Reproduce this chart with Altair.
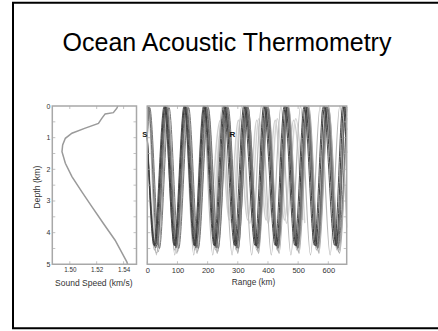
import altair as alt
import pandas as pd

TITLE = "Ocean Acoustic Thermometry"

# ---------------- left panel: sound-speed profile ----------------
profile_depth = [0.0, 0.07, 0.21, 0.25, 0.39, 0.55, 0.70, 0.86, 1.02, 1.23, 1.44,
                 1.81, 2.23, 2.71, 3.18, 3.71, 4.24, 4.92, 5.0]
profile_speed = [1.5357, 1.5350, 1.5324, 1.5263, 1.5238, 1.5213, 1.5115, 1.5016,
                 1.4967, 1.4947, 1.4942, 1.4967, 1.5016, 1.5090, 1.5164, 1.5250,
                 1.5337, 1.5424, 1.5430]
speed_domain = [1.487, 1.5496]
speed_ticks = [1.50, 1.52, 1.54]
depth_domain = [0.0, 5.0]
depth_labels = [0, 1, 2, 3, 4, 5]
depth_minor = [0.5, 1.0, 1.5, 2.0, 2.5, 3.0, 3.5, 4.0, 4.5]

# ---------------- right panel: ray paths (turning points) ----------------
range_domain = [0, 661]
range_ticks = [0, 100, 200, 300, 400, 500, 600]

k1_range = [0, 25, 59, 92, 125, 158, 190, 224, 257, 293, 324, 361, 390, 428, 458, 493, 524, 558, 588, 626, 652, 661]
k1_depth = [1.0, 4.42, 0.0, 4.42, 0.0, 4.42, 0.0, 4.42, 0.0, 4.42, 0.0, 4.42, 0.0, 4.42, 0.0, 4.42, 0.0, 4.42, 0.0, 4.42, 0.0, 0.75]
k2_range = [0, 28, 62, 95, 128, 161, 194, 228, 261, 297, 328, 365, 395, 433, 463, 498, 529, 564, 594, 632, 658, 661]
k2_depth = [1.0, 4.48, 0.02, 4.48, 0.02, 4.48, 0.02, 4.48, 0.02, 4.48, 0.02, 4.48, 0.02, 4.48, 0.02, 4.48, 0.02, 4.48, 0.02, 4.48, 0.02, 0.05]
k3_range = [0, 4, 33, 64, 97, 130, 163, 196, 229, 263, 297, 330, 364, 397, 431, 464, 497, 530, 563, 596, 628, 660, 661]
k3_depth = [1.0, 0.03, 4.38, 0.03, 4.38, 0.03, 4.38, 0.03, 4.38, 0.03, 4.38, 0.03, 4.38, 0.03, 4.38, 0.03, 4.38, 0.03, 4.38, 0.03, 4.38, 0.03, 0.04]
k4_range = [0, 22, 56, 89, 122, 155, 187, 221, 253, 289, 320, 357, 386, 424, 454, 489, 520, 554, 584, 621, 648, 661]
k4_depth = [1.0, 4.4, 0.0, 4.4, 0.0, 4.4, 0.0, 4.4, 0.0, 4.4, 0.0, 4.4, 0.0, 4.4, 0.0, 4.4, 0.0, 4.4, 0.0, 4.4, 0.0, 1.48]

g1_range = [0, 6, 37, 68, 101, 134, 167, 200, 234, 267, 300, 334, 367, 401, 434, 467, 501, 534, 567, 600, 634, 661]
g1_depth = [1.0, 0.0, 4.6, 0.0, 4.6, 0.0, 4.6, 0.0, 4.6, 0.0, 4.6, 0.0, 4.6, 0.0, 4.6, 0.0, 4.6, 0.0, 4.6, 0.0, 4.6, 0.37]
g2_range = [0, 31, 65, 98, 131, 165, 198, 232, 265, 300, 333, 369, 400, 437, 468, 503, 535, 569, 600, 637, 661]
g2_depth = [1.0, 4.65, 0.0, 4.65, 0.0, 4.65, 0.0, 4.65, 0.0, 4.65, 0.0, 4.65, 0.0, 4.65, 0.0, 4.65, 0.0, 4.65, 0.0, 4.65, 0.05]
g3_range = [0, 3, 30, 60, 91, 122, 154, 185, 217, 248, 281, 313, 346, 378, 411, 443, 476, 508, 541, 573, 606, 638, 661]
g3_depth = [1.0, 0.0, 4.7, 0.0, 4.7, 0.0, 4.7, 0.0, 4.7, 0.0, 4.7, 0.0, 4.7, 0.0, 4.7, 0.0, 4.7, 0.0, 4.7, 0.0, 4.7, 0.0, 3.84]
g4_range = [0, 24, 57, 90, 124, 157, 191, 226, 259, 295, 327, 363, 393, 431, 461, 496, 527, 561, 592, 629, 655, 661]
g4_depth = [1.0, 4.55, 0.08, 4.55, 0.08, 4.55, 0.08, 4.55, 0.08, 4.55, 0.08, 4.55, 0.08, 4.55, 0.08, 4.55, 0.08, 4.55, 0.08, 4.55, 0.08, 0.3]
g5_range = [0, 8, 40, 72, 104, 137, 169, 202, 235, 268, 301, 334, 367, 400, 433, 466, 499, 532, 565, 598, 631, 661]
g5_depth = [1.0, 0.05, 4.5, 0.05, 4.5, 0.05, 4.5, 0.05, 4.5, 0.05, 4.5, 0.05, 4.5, 0.05, 4.5, 0.05, 4.5, 0.05, 4.5, 0.05, 4.5, 0.09]

lg1_range = [212, 242, 272, 302, 333, 363, 394, 424, 455, 485, 515]
lg1_depth = [3.6, 0.45, 3.6, 0.45, 3.6, 0.45, 3.6, 0.45, 3.6, 0.45, 3.6]
lg2_range = [219, 249, 279, 309, 340, 370, 401, 431, 462, 492, 522]
lg2_depth = [3.7, 0.4, 3.7, 0.4, 3.7, 0.4, 3.7, 0.4, 3.7, 0.4, 3.7]

marker_names = ["S", "R"]
marker_range = [0, 282]
marker_depth = [0.93, 0.93]

dark_rays = {"K1": (k1_range, k1_depth), "K4": (k4_range, k4_depth)}
mid_rays = {"K2": (k2_range, k2_depth), "K3": (k3_range, k3_depth),
            "G5": (g5_range, g5_depth)}
gray_rays = {"G1": (g1_range, g1_depth), "G2": (g2_range, g2_depth),
             "G3": (g3_range, g3_depth), "G4": (g4_range, g4_depth)}
light_rays = {"L1": (lg1_range, lg1_depth), "L2": (lg2_range, lg2_depth)}

dark_colors = ["#2a2a2a", "#3a3a3a"]
mid_colors = ["#5e5e5e", "#6a6a6a", "#777777"]
gray_colors = ["#a0a0a0", "#a8a8a8", "#b8b8b8", "#acacac"]
light_colors = ["#d0d0d0", "#d6d6d6"]


def ray_frame(rays):
    rows = []
    for name, (r, d) in rays.items():
        for ri, di in zip(r, d):
            rows.append({"ray": name, "range": ri, "depth": di})
    return pd.DataFrame(rows)


FONT = "Liberation Sans"
FRAME = "#a8a8a8"
TXT = "#333333"

# ---------------- scales and axes ----------------
speed_scale = alt.Scale(domain=speed_domain, range=[52.3, 136.5], nice=False, zero=False)
range_scale = alt.Scale(domain=range_domain, range=[147.3, 346.7], nice=False, zero=False)
depth_scale_l = alt.Scale(domain=depth_domain, range=[106, 264.3], nice=False, zero=False)
depth_scale_r = alt.Scale(domain=depth_domain, range=[106, 264.3], nice=False, zero=False)

speed_axis = alt.Axis(orient="bottom", offset=-66.7, values=speed_ticks, format=".2f",
                      labelFontSize=6.3, labelColor=TXT, labelFont=FONT, labelPadding=2,
                      labelFlush=False, ticks=False, tickSize=0, domain=False, grid=False,
                      title="Sound Speed (km/s)", titleFont=FONT, titleFontSize=8.5,
                      titleFontWeight="normal", titleColor=TXT, titleX=93.3, titleY=18.3,
                      titleBaseline="middle", titleAlign="center")
depth_axis = alt.Axis(orient="left", offset=-52.3, values=depth_labels, format="d",
                      labelFontSize=7, labelColor=TXT, labelFont=FONT, labelPadding=2.3,
                      labelFlush=False, ticks=False, tickSize=0, domain=False, grid=False,
                      title="Depth (km)", titleFont=FONT, titleFontSize=8.7,
                      titleFontWeight="normal", titleColor=TXT, titleX=-15.6, titleY=186.7,
                      titleAngle=270, titleBaseline="middle", titleAlign="center")
range_axis = alt.Axis(orient="bottom", offset=-66.7, values=range_ticks, format="d",
                      labelFontSize=7.5, labelColor=TXT, labelFont=FONT, labelPadding=2,
                      labelFlush=False, ticks=False, tickSize=0, domain=False, grid=False,
                      title="Range (km)", titleFont=FONT, titleFontSize=8.3,
                      titleFontWeight="normal", titleColor=TXT, titleX=253, titleY=18.3,
                      titleBaseline="middle", titleAlign="center")

SX = lambda f="speed:Q": alt.X(f, scale=speed_scale, axis=speed_axis)
SY = lambda f="depth:Q": alt.Y(f, scale=depth_scale_l, axis=depth_axis)
RX = lambda f="range:Q": alt.X(f, scale=range_scale, axis=range_axis)
RY = lambda f="depth:Q": alt.Y(f, scale=depth_scale_r, axis=None)

# ---------------- left panel ----------------
prof_df = pd.DataFrame({"speed": profile_speed, "depth": profile_depth})
curve = alt.Chart(prof_df).mark_line(color="#9a9a9a", strokeWidth=1.5).encode(
    x=SX(), y=SY(), order="depth:Q")

lframe_df = pd.DataFrame({"speed": [speed_domain[0]], "speed_end": [speed_domain[1]],
                          "depth": [depth_domain[0]], "depth_end": [depth_domain[1]]})
lframe = alt.Chart(lframe_df).mark_rect(fillOpacity=0, stroke=FRAME, strokeWidth=1.5).encode(
    x=SX(), x2="speed_end", y=SY(), y2="depth_end")

l_yt_left = alt.Chart(pd.DataFrame({"speed": [speed_domain[0]] * len(depth_minor), "depth": depth_minor})
                      ).mark_tick(orient="horizontal", size=3, thickness=1, color=FRAME, xOffset=1.5
                                  ).encode(x=SX(), y=SY())
l_yt_right = alt.Chart(pd.DataFrame({"speed": [speed_domain[1]] * len(depth_minor), "depth": depth_minor})
                       ).mark_tick(orient="horizontal", size=3, thickness=1, color=FRAME, xOffset=-1.5
                                   ).encode(x=SX(), y=SY())
l_xt_top = alt.Chart(pd.DataFrame({"speed": speed_ticks, "depth": [depth_domain[0]] * len(speed_ticks)})
                     ).mark_tick(orient="vertical", size=3, thickness=1, color=FRAME, yOffset=1.5
                                 ).encode(x=SX(), y=SY())
l_xt_bot = alt.Chart(pd.DataFrame({"speed": speed_ticks, "depth": [depth_domain[1]] * len(speed_ticks)})
                     ).mark_tick(orient="vertical", size=3, thickness=1, color=FRAME, yOffset=-1.5
                                 ).encode(x=SX(), y=SY())

left = alt.layer(curve, lframe, l_yt_left, l_yt_right, l_xt_top, l_xt_bot)

# ---------------- right panel ----------------
def ray_layer(rays, colors, width):
    return alt.Chart(ray_frame(rays)).mark_line(strokeWidth=width, interpolate="monotone").encode(
        x=RX(), y=RY(), detail="ray:N",
        color=alt.Color("ray:N", scale=alt.Scale(domain=list(rays.keys()), range=colors), legend=None))

light_layer = ray_layer(light_rays, light_colors, 1.5)
gray_layer = ray_layer(gray_rays, gray_colors, 1.2)
mid_layer = ray_layer(mid_rays, mid_colors, 1.0)
dark_layer = ray_layer(dark_rays, dark_colors, 0.9)

rframe_df = pd.DataFrame({"range": [range_domain[0]], "range_end": [range_domain[1]],
                          "depth": [depth_domain[0]], "depth_end": [depth_domain[1]]})
rframe = alt.Chart(rframe_df).mark_rect(fillOpacity=0, stroke=FRAME, strokeWidth=1.5).encode(
    x=RX(), x2="range_end", y=RY(), y2="depth_end")

r_yt_left = alt.Chart(pd.DataFrame({"range": [range_domain[0]] * len(depth_minor), "depth": depth_minor})
                      ).mark_tick(orient="horizontal", size=3, thickness=1, color=FRAME, xOffset=1.5
                                  ).encode(x=RX(), y=RY())
r_yt_right = alt.Chart(pd.DataFrame({"range": [range_domain[1]] * len(depth_minor), "depth": depth_minor})
                       ).mark_tick(orient="horizontal", size=3, thickness=1, color=FRAME, xOffset=-1.5
                                   ).encode(x=RX(), y=RY())
r_xt_top = alt.Chart(pd.DataFrame({"range": range_ticks, "depth": [depth_domain[0]] * len(range_ticks)})
                     ).mark_tick(orient="vertical", size=3, thickness=1, color=FRAME, yOffset=1.5
                                 ).encode(x=RX(), y=RY())
r_xt_bot = alt.Chart(pd.DataFrame({"range": range_ticks, "depth": [depth_domain[1]] * len(range_ticks)})
                     ).mark_tick(orient="vertical", size=3, thickness=1, color=FRAME, yOffset=-1.5
                                 ).encode(x=RX(), y=RY())

s_label = alt.Chart(pd.DataFrame({"name": [marker_names[0]], "range": [marker_range[0]], "depth": [marker_depth[0]]})
                    ).mark_text(font=FONT, fontSize=7.5, fontWeight="bold", color="#111111",
                                align="right", baseline="middle").encode(x=RX(), y=RY(), text="name:N")
r_label = alt.Chart(pd.DataFrame({"name": [marker_names[1]], "range": [marker_range[1]], "depth": [marker_depth[1]]})
                    ).mark_text(font=FONT, fontSize=8, fontWeight="bold", color="#111111",
                                align="center", baseline="middle").encode(x=RX(), y=RY(), text="name:N")

right = alt.layer(light_layer, gray_layer, mid_layer, dark_layer, rframe, r_yt_left, r_yt_right,
                  r_xt_top, r_xt_bot, s_label, r_label).resolve_scale(color="independent")

# ---------------- slide decoration: border and title ----------------
one = pd.DataFrame({"k": [0]})
border = alt.Chart(one).mark_rect(fillOpacity=0, stroke="black", strokeWidth=2).encode(
    x=alt.value(13), x2=alt.value(470), y=alt.value(2.7), y2=alt.value(328.2))
title = alt.Chart(one).mark_text(text=TITLE, font=FONT, fontSize=25, color="black",
                                 align="center", baseline="alphabetic").encode(
    x=alt.value(227), y=alt.value(51))

chart = alt.layer(border, title, left, right).resolve_scale(
    x="independent", y="independent"
).properties(
    width=438, height=331, autosize=alt.AutoSizeParams(type="none"), padding=0
).configure(font=FONT).configure_view(strokeWidth=0)

chart.save("out.html", embed_options={"renderer": "svg", "actions": False})
